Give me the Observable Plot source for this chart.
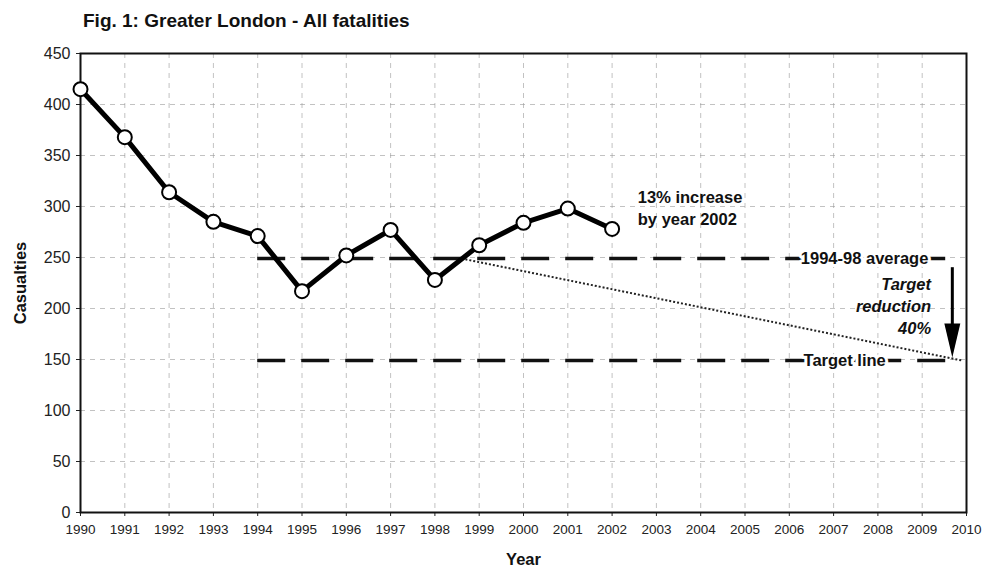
<!DOCTYPE html>
<html>
<head>
<meta charset="utf-8">
<script src="https://cdn.jsdelivr.net/npm/d3@7"></script>
<script src="https://cdn.jsdelivr.net/npm/@observablehq/plot@0.6"></script>
<style>
  html, body { margin: 0; padding: 0; background: #fff; }
  body { width: 982px; height: 570px; overflow: hidden; font-family: "Liberation Sans", Arial, sans-serif; }
  #title { height: 38px; box-sizing: border-box; padding: 10px 0 0 83px; font-weight: bold; font-size: 19px; line-height: 22px; color: #111; }
  #chart svg { display: block; }
</style>
</head>
<body>
<div id="title">Fig. 1: Greater London - All fatalities</div>
<div id="chart"></div>
<script>
// Data
const years = [1990, 1991, 1992, 1993, 1994, 1995, 1996, 1997, 1998, 1999, 2000, 2001, 2002];
const casualties = [415, 368, 314, 285, 271, 217, 252, 277, 228, 262, 284, 298, 278];
const average9498 = 249;          // 1994-98 average
const targetValue = 149;          // target line (40% below average)
const lineStartYear = 1994;
const lineEndYear = 2009.6;
const trendStart = [1998.6, 249];
const trendEnd = [2009.9, 149];
const arrowYear = 2009.68;
const xTicks = d3.range(1990, 2011);
const yTicks = [0, 50, 100, 150, 200, 250, 300, 350, 400, 450];
const xLabel = "Year";
const yLabel = "Casualties";
const increaseLabel = ["13% increase", "by year 2002"];
const reductionLabel = ["Target", "reduction", "40%"];

const series = years.map((y, i) => ({year: y, value: casualties[i]}));
const refLines = [
  {name: "avg", y: average9498},
  {name: "target", y: targetValue}
];

// elongated filled triangle pointing down
const arrowHead = {
  draw(context, size) {
    const w = 8, h = 34;
    context.moveTo(-w, -h);
    context.lineTo(w, -h);
    context.lineTo(0, 0);
    context.closePath();
  }
};

const font = "Liberation Sans, Arial, sans-serif";

const chart = Plot.plot({
  width: 982,
  height: 532,
  marginTop: 15,
  marginBottom: 58,
  marginLeft: 80,
  marginRight: 16,
  style: {fontFamily: font, fontSize: "14px", color: "#222", background: "#fff"},
  x: {domain: [1990, 2010]},
  y: {domain: [0, 450]},
  marks: [
    Plot.gridX(xTicks, {stroke: "#999", strokeOpacity: 0.6, strokeDasharray: "5,5"}),
    Plot.gridY(yTicks, {stroke: "#999", strokeOpacity: 0.6, strokeDasharray: "5,5"}),
    Plot.axisX(xTicks, {tickFormat: "d", tickSize: 4, tickPadding: 8, fontSize: 13.5, label: null}),
    Plot.axisY(yTicks, {tickSize: 4, tickPadding: 6, fontSize: 16, label: null}),
    Plot.text([xLabel], {text: d => d, frameAnchor: "bottom", dy: 52, fontWeight: "bold", fontSize: 16.5, fill: "#111"}),
    Plot.text([yLabel], {text: d => d, x: 1990 - 60 / 44.3, y: 225, rotate: -90, fontWeight: "bold", fontSize: 16.5, fill: "#111"}),
    Plot.frame({stroke: "#111", strokeWidth: 2}),
    Plot.ruleY(refLines, {y: "y", x1: lineStartYear, x2: lineEndYear, stroke: "#111", strokeWidth: 3.5, strokeDasharray: "28,16"}),
    Plot.link([{x1: trendStart[0], y1: trendStart[1], x2: trendEnd[0], y2: trendEnd[1]}], {
      x1: "x1", y1: "y1", x2: "x2", y2: "y2", stroke: "#222", strokeWidth: 2, strokeDasharray: "2,2"
    }),
    Plot.line(series, {x: "year", y: "value", stroke: "#000", strokeWidth: 5, strokeLinejoin: "round"}),
    Plot.dot(series, {x: "year", y: "value", r: 7, fill: "#fff", stroke: "#000", strokeWidth: 2}),
    // labels on reference lines with white halo
    Plot.text([{x: 2007.7, y: average9498, t: "1994-98 average"}], {
      x: "x", y: "y", text: "t", fontWeight: "bold", fontSize: 16.5, fill: "#111",
      stroke: "#fff", strokeWidth: 6
    }),
    Plot.text([{x: 2007.25, y: targetValue, t: "Target line"}], {
      x: "x", y: "y", text: "t", fontWeight: "bold", fontSize: 16.5, fill: "#111",
      stroke: "#fff", strokeWidth: 6
    }),
    // arrow
    Plot.ruleX([arrowYear], {y1: 240, y2: 170, stroke: "#000", strokeWidth: 3}),
    Plot.dot([{x: arrowYear, y: 152}], {x: "x", y: "y", symbol: arrowHead, fill: "#000", stroke: "none", r: 5}),
    // annotations
    Plot.text(increaseLabel, {
      x: 2002.58, y: (d, i) => [309, 287][i], text: d => d,
      textAnchor: "start", fontWeight: "bold", fontSize: 16.5, fill: "#111"
    }),
    Plot.text(reductionLabel, {
      x: 2009.2, y: (d, i) => [223, 202, 180][i], text: d => d,
      textAnchor: "end", fontWeight: "bold", fontStyle: "italic", fontSize: 16.5, fill: "#111"
    })
  ]
});

chart.querySelectorAll('g[aria-label="y-axis tick label"]').forEach(g => { g.style.fontSize = "16px"; });
chart.querySelectorAll('g[aria-label="x-axis tick label"]').forEach(g => { g.style.fontSize = "13.5px"; });
document.getElementById("chart").appendChild(chart);
</script>
</body>
</html>
